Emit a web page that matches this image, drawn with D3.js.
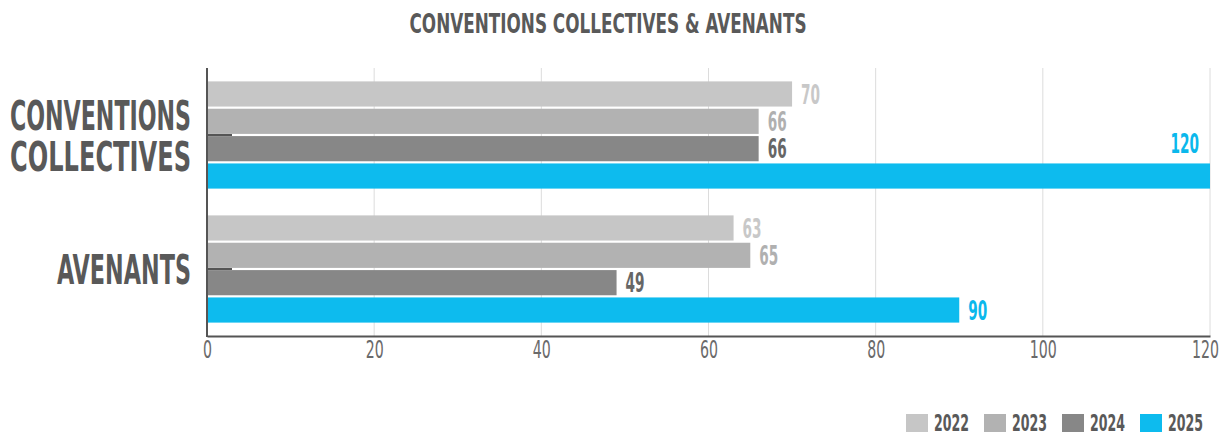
<!DOCTYPE html>
<html>
<head>
<meta charset="utf-8">
<script src="https://cdn.jsdelivr.net/npm/d3@7"></script>
<style>
  body { margin: 0; background: #fff; }
  text { font-family: "Liberation Sans Narrow", "DejaVu Sans Condensed", "Roboto", sans-serif; }
</style>
</head>
<body>
<svg id="chart" width="1220" height="434"></svg>
<script>
var categories = ["CONVENTIONS COLLECTIVES", "AVENANTS"];
var years = ["2022", "2023", "2024", "2025"];
var values2022 = [70, 63];
var values2023 = [66, 65];
var values2024 = [66, 49];
var values2025 = [120, 90];
var xTicks = [0, 20, 40, 60, 80, 100, 120];

var seriesValues = [values2022, values2023, values2024, values2025];
var colors = ["#c6c6c6", "#b2b2b2", "#878787", "#0dbbee"];
var labelColors = ["#c8c8c8", "#b0b0b0", "#666666", "#0bb8ec"];
var textGray = "#595959";

var svg = d3.select("#chart");

var x = d3.scaleLinear().domain([0, 120]).range([207, 1210]);
var y0 = d3.scaleBand().domain(categories).range([68, 336]).paddingInner(0.2).paddingOuter(0.1);
var y1 = d3.scaleBand().domain(years).range([0, y0.bandwidth()]).paddingInner(0.08);

// narrow digits, roughly the condensed face of the original
function numWidth(s, per){ return String(s).length * per; }

// title
svg.append("text").attr("x", 608).attr("y", 33).attr("text-anchor", "middle")
  .attr("font-size", "26px").attr("font-weight", "bold").attr("fill", textGray)
  .attr("textLength", 397).attr("lengthAdjust", "spacingAndGlyphs")
  .text("CONVENTIONS COLLECTIVES & AVENANTS");

// grid
svg.append("g").selectAll("line").data(xTicks.slice(1)).enter().append("line")
  .attr("x1", function(d){ return x(d); }).attr("x2", function(d){ return x(d); })
  .attr("y1", 68).attr("y2", 336)
  .attr("stroke", "#dcdcdc").attr("stroke-width", 1);

// category ticks (inward, partly hidden by bars)
var yAxis = d3.axisLeft(y0).tickSize(-25).tickFormat("");
var gy = svg.append("g").attr("transform", "translate(207,0)").call(yAxis);
gy.select(".domain").remove();
gy.selectAll(".tick line").attr("stroke", "#555").attr("stroke-width", 2);

// bars
var groups = svg.append("g").selectAll("g").data(categories).enter().append("g")
  .attr("transform", function(d){ return "translate(0," + y0(d) + ")"; });

groups.each(function(cat, ci){
  var g = d3.select(this);
  years.forEach(function(yr, si){
    var v = seriesValues[si][ci];
    g.append("rect")
      .attr("x", x(0)).attr("y", y1(yr))
      .attr("width", x(v) - x(0)).attr("height", y1.bandwidth())
      .attr("fill", colors[si]);
    var lbl = g.append("text")
      .attr("font-size", "26px").attr("font-weight", "bold")
      .attr("fill", labelColors[si])
      .attr("textLength", numWidth(v, 9.5)).attr("lengthAdjust", "spacingAndGlyphs")
      .text(v);
    if (x(v) + 40 > 1215) {
      lbl.attr("x", x(v) - 11).attr("y", y1(yr) - 10).attr("text-anchor", "end");
    } else {
      lbl.attr("x", x(v) + 9).attr("y", y1(yr) + y1.bandwidth() - 3);
    }
  });
});

// category labels
var catLines = { "CONVENTIONS COLLECTIVES": ["CONVENTIONS", "COLLECTIVES"], "AVENANTS": ["AVENANTS"] };
var catWidths = { "CONVENTIONS": 181, "COLLECTIVES": 181, "AVENANTS": 134 };
categories.forEach(function(cat){
  var lines = catLines[cat];
  var cy = y0(cat) + y0.bandwidth() / 2;
  var t = svg.append("text")
    .attr("text-anchor", "end").attr("font-size", "41px").attr("font-weight", "bold")
    .attr("fill", textGray);
  lines.forEach(function(line, i){
    t.append("tspan")
      .attr("x", 191).attr("y", cy + 15 + (i - (lines.length - 1) / 2) * 41)
      .attr("textLength", catWidths[line]).attr("lengthAdjust", "spacingAndGlyphs")
      .text(line);
  });
});

// axes lines
svg.append("line").attr("x1", 207).attr("x2", 207).attr("y1", 68).attr("y2", 337)
  .attr("stroke", "#555").attr("stroke-width", 2);

var xAxis = d3.axisBottom(x).tickValues(xTicks).tickSize(0).tickPadding(4);
var gx = svg.append("g").attr("transform", "translate(0,336)").call(xAxis);
gx.select(".domain").attr("stroke", "#555").attr("stroke-width", 2);
gx.selectAll(".tick text").attr("font-size", "25px").attr("fill", "#6a6a6a")
  .attr("textLength", function(d){ return numWidth(d, 9); }).attr("lengthAdjust", "spacingAndGlyphs")
  .attr("dx", function(d){ return d === 120 ? -5 : 0; })
  .style("font-family", "\"Liberation Sans Narrow\", \"DejaVu Sans Condensed\", sans-serif");

// legend
var legend = svg.append("g").selectAll("g").data(years).enter().append("g")
  .attr("transform", function(d, i){ return "translate(" + (906 + i * 78) + ",414)"; });
legend.append("rect").attr("width", 22).attr("height", 18)
  .attr("fill", function(d, i){ return colors[i]; });
legend.append("text").attr("x", 28).attr("y", 17)
  .attr("font-size", "23px").attr("font-weight", "bold").attr("fill", textGray)
  .attr("textLength", 35).attr("lengthAdjust", "spacingAndGlyphs")
  .text(function(d){ return d; });
</script>
</body>
</html>
